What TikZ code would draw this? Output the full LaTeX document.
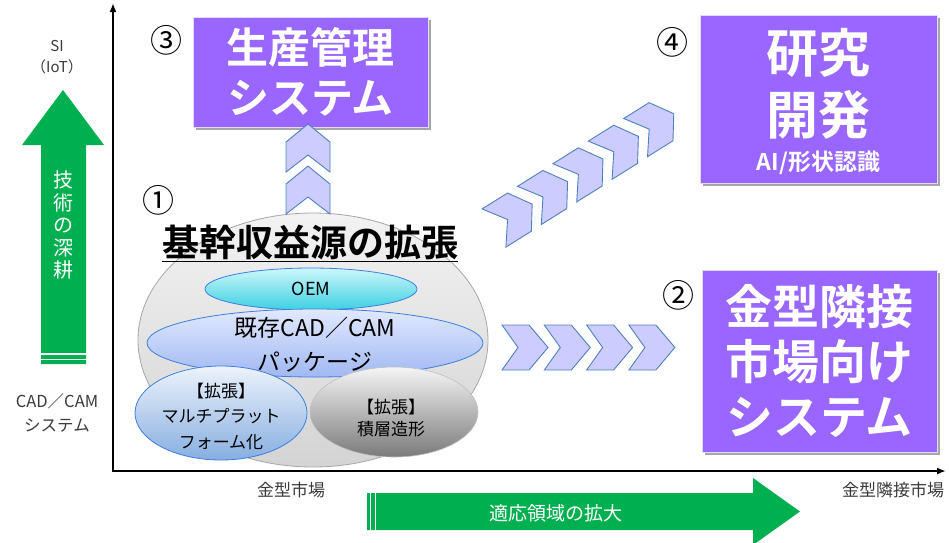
\documentclass[tikz,border=0pt]{standalone}
\usepackage{fontspec}
\setmainfont{Noto Sans CJK JP}[BoldFont={Noto Sans CJK JP Bold}]
\usetikzlibrary{shapes.geometric,shadows,arrows.meta}
\definecolor{purp}{HTML}{9966FF}
\definecolor{chevfill}{HTML}{CCCCFF}
\definecolor{chevdraw}{HTML}{4F81BD}
\definecolor{grn}{HTML}{00B050}
\definecolor{txtgray}{HTML}{3A3A3A}
\definecolor{ellblue}{HTML}{3C7FE0}
\definecolor{oemtop}{RGB}{205,247,250}
\definecolor{oembot}{RGB}{60,208,226}
\definecolor{cadtop}{RGB}{226,233,255}
\definecolor{cadbot}{RGB}{160,184,242}
\definecolor{multop}{RGB}{236,243,252}
\definecolor{mulbot}{RGB}{135,174,224}
\begin{document}
\begin{tikzpicture}[x=1pt,y=-1pt,
  purplebox/.style={draw=white!75!purp, line width=1pt, fill=purp, inner sep=0pt,
    drop shadow={shadow xshift=2.5pt, shadow yshift=-2.5pt, opacity=0.35, fill=black}},
  boxtext/.style={text=white, align=center, inner sep=0pt},
  chev/.style={fill=chevfill, draw=chevdraw, line width=0.9pt, line join=miter},
  ell/.style={ellipse, inner sep=0pt},
  circnum/.style={font=\fontsize{32}{32}\selectfont, inner sep=0pt},
  sidelabel/.style={text=txtgray, align=center, inner sep=0pt},
  axisline/.style={line width=2pt, {Latex[length=9pt,width=7pt]}-{Latex[length=9pt,width=7pt]}}
]
\useasboundingbox (0,0) rectangle (949,542);

% axes
\coordinate (ytop) at (113,3);
\coordinate (O) at (113,471);
\coordinate (xend) at (946,471);
\draw[axisline] (ytop) -- (O) -- (xend);

% left labels
\node[sidelabel, font=\fontsize{15}{21}\selectfont] (si) at (57,57) {SI\\（IoT）};
\node[sidelabel, font=\fontsize{16.5}{24}\selectfont] (cadsys) at (57,413) {CAD／CAM\\システム};

% vertical green arrow
\fill[grn] (41,364) -- (41,145) -- (22,145) -- (63,90) -- (104,145) -- (86,145) -- (86,364) -- cycle;
\draw[white, line width=1.3pt] (40,354) -- (87,354) (40,359.5) -- (87,359.5);
\node[boxtext, font=\fontsize{20}{22.5}\selectfont] (deep) at (63.5,225) {技\\術\\の\\深\\耕};

% horizontal green arrow
\fill[grn] (367,493) -- (753,493) -- (753,478) -- (800,511.5) -- (753,545) -- (753,530) -- (367,530) -- cycle;
\draw[white, line width=1.3pt] (370.5,492) -- (370.5,531) (375.5,492) -- (375.5,531);
\node[boxtext, font=\fontsize{19}{19}\selectfont] (expand) at (556,513) {適応領域の拡大};

% bottom labels
\node[sidelabel, font=\fontsize{17}{17}\selectfont] (mkt1) at (291,490) {金型市場};
\node[sidelabel, font=\fontsize{17}{17}\selectfont] (mkt2) at (893,490) {金型隣接市場};

% purple boxes
\node[purplebox, minimum width=235pt, minimum height=110pt] (box3) at (310.5,72) {};
\node[boxtext, font=\fontsize{42}{50}\selectfont\bfseries] (box3t) at (box3) {生産管理\\システム};
\node[purplebox, minimum width=237pt, minimum height=168pt] (box4) at (818.5,99) {};
\node[boxtext, font=\fontsize{52}{62}\selectfont\bfseries] (box4t) at (818.5,84) {研究\\開発};
\node[boxtext, font=\fontsize{23}{23}\selectfont\bfseries] (box4s) at (818.5,163) {AI/形状認識};
\node[purplebox, minimum width=235pt, minimum height=182pt] (box2) at (819.5,361) {};
\node[boxtext, font=\fontsize{47}{55}\selectfont\bfseries] (box2t) at (box2) {金型隣接\\市場向け\\システム};

% circled numbers
\node[circnum] (n3) at (166,40) {③};
\node[circnum] (n4) at (672,42) {④};
\node[circnum] (n2) at (678,295) {②};
\node[circnum] (n1) at (158,200) {①};

% core ellipses
\node[ell, minimum width=350pt, minimum height=254pt, top color=black!5, bottom color=black!17, draw=black!35, line width=0.8pt] (core) at (313,340) {};
\node[ell, minimum width=212pt, minimum height=42pt, top color=oemtop, bottom color=oembot, draw=ellblue, line width=0.8pt] (oem) at (311,289) {};
\node[inner sep=0pt, font=\fontsize{18}{18}\selectfont] (oemt) at (oem) {OEM};
\node[ell, minimum width=336pt, minimum height=68pt, top color=cadtop, bottom color=cadbot, draw=ellblue, line width=0.8pt] (cadcam) at (315,343) {};
\node[inner sep=0pt, align=center, font=\fontsize{23}{34}\selectfont] (cadcamt) at (315,345) {既存CAD／CAM\\パッケージ};
\node[ell, minimum width=172pt, minimum height=94pt, top color=multop, bottom color=mulbot, draw=ellblue, line width=0.8pt] (multi) at (221,413) {};
\node[inner sep=0pt, align=center, font=\fontsize{17}{25.5}\selectfont] (multit) at (221,416) {【拡張】\\マルチプラット\\フォーム化};
\node[ell, minimum width=168pt, minimum height=90pt, top color=black!4, bottom color=black!52, draw=black!25, line width=0.6pt] (additive) at (394,412) {};
\node[inner sep=0pt, align=center, font=\fontsize{17}{22}\selectfont] (additivet) at (391,418) {【拡張】\\積層造形};

% title
\node[inner sep=0pt, font=\fontsize{37}{37}\selectfont\bfseries] (title) at (310,243) {\underline{基幹収益源の拡張}};

% vertical chevrons
\foreach \yy in {124,166} {
  \draw[chev] (308,\yy) -- ++(22,18) -- ++(0,30) -- ++(-22,-17) -- ++(-22,17) -- ++(0,-30) -- cycle;
}
% horizontal chevrons
\foreach \i in {0,...,3} {
  \draw[chev] ({502+42.3*\i},325) -- ++(27,0) -- ++(19,22.5) -- ++(-19,22.5) -- ++(-27,0) -- ++(16,-22.5) -- cycle;
}
% diagonal chevrons
\foreach \i in {0,...,4} {
  \begin{scope}[shift={({494+35.4*\i},{228-22.6*\i})}, rotate=32]
    \draw[chev] (0,-22.5) -- (30,-22.5) -- (45,0) -- (30,22.5) -- (0,22.5) -- (16,0) -- cycle;
  \end{scope}
}
\end{tikzpicture}
\end{document}
